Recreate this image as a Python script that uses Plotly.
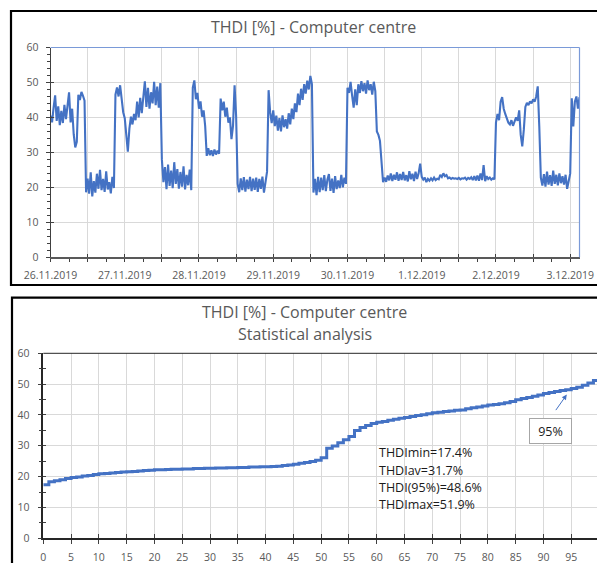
import plotly.graph_objects as go

# ---- THDI time series, 30-minute samples starting 26.11.2019 00:00 ----
SAMPLE_STEP_H = 0.5
thdi_values = [
    # 26.11 00:00 - 11:30
    40.5, 38.6, 42.8, 46.3, 39.0, 43.2, 37.8, 41.9, 38.4, 43.6, 39.5, 44.2,
    47.2, 38.6, 42.5, 35.2, 31.4, 33.0, 46.5, 45.0, 47.3, 46.2, 44.8, 18.6,
    # 26.11 12:00 - 23:30
    22.5, 18.2, 24.3, 17.4, 21.8, 18.5, 23.9, 19.6, 25.0, 19.2, 22.4, 18.7,
    24.6, 19.4, 21.5, 18.3, 23.0, 19.8, 46.5, 48.6, 46.0, 49.2, 45.8, 41.5,
    # 27.11
    39.8, 33.5, 30.2, 36.8, 40.2, 38.0, 41.0, 39.2, 44.5, 40.0, 45.6, 41.2,
    47.0, 50.3, 43.0, 48.5, 42.5, 47.2, 44.0, 50.2, 43.5, 48.8, 42.8, 49.8,
    28.0, 21.5, 25.8, 19.5, 26.5, 20.4, 24.8, 19.8, 27.2, 21.0, 25.2, 19.6,
    24.4, 20.2, 26.0, 19.4, 23.6, 20.6, 25.1, 19.2, 48.5, 50.6, 45.2, 47.0,
    # 28.11
    42.5, 44.6, 40.2, 42.0, 37.5, 29.0, 31.2, 29.2, 30.6, 29.0, 30.8, 29.4,
    30.5, 29.6, 45.4, 42.0, 44.5, 40.2, 42.8, 38.5, 40.0, 33.8, 37.6, 49.2,
    40.5, 21.0, 18.6, 22.6, 19.2, 22.9, 18.8, 22.2, 19.5, 23.0, 18.9, 22.5,
    19.3, 22.8, 18.7, 22.4, 19.6, 23.1, 18.5, 22.0, 24.5, 47.8, 41.5, 38.4,
    # 29.11
    42.0, 37.5, 40.5, 36.2, 39.8, 36.0, 40.6, 37.2, 39.5, 36.8, 41.2, 38.0,
    42.5, 39.5, 44.0, 41.5, 46.8, 43.5, 48.2, 45.0, 49.5, 46.8, 50.5, 48.0,
    51.9, 49.5, 18.5, 22.4, 17.8, 23.0, 18.6, 22.8, 19.2, 23.5, 18.9, 22.2,
    23.8, 19.0, 22.5, 18.4, 23.2, 19.5, 22.0, 19.8, 23.6, 20.0, 22.8, 21.0,
    # 30.11
    48.5, 47.0, 50.2, 46.2, 42.8, 48.0, 43.5, 49.5, 47.0, 50.4, 47.5, 49.8,
    46.8, 50.6, 47.8, 49.5, 46.5, 50.2, 47.5, 36.0, 35.0, 33.3, 28.0, 21.5,
    22.8, 21.6, 23.4, 22.0, 24.0, 21.8, 23.6, 22.2, 24.3, 21.9, 23.8, 22.1,
    24.4, 22.0, 23.5, 21.7, 24.6, 22.3, 23.9, 21.8, 24.5, 22.4, 24.0, 26.8,
    # 1.12
    23.0, 22.2, 22.8, 21.5, 22.4, 21.9, 22.6, 22.0, 22.8, 22.1, 22.5, 22.3,
    23.6, 23.0, 24.0, 23.2, 23.5, 22.6, 22.8, 22.4, 22.7, 22.5, 22.6, 22.4,
    22.7, 22.3, 22.6, 22.5, 22.8, 22.2, 22.7, 22.4, 22.9, 22.1, 23.2, 22.0,
    23.4, 21.9, 24.0, 22.1, 26.4, 21.8, 23.2, 22.4, 22.8, 22.2, 22.6, 22.3,
    # 2.12
    38.5, 41.0, 39.2, 44.5, 45.8, 42.5, 41.0, 39.5, 38.5, 38.0, 39.2, 37.6,
    38.8, 40.0, 39.0, 42.0, 35.0, 31.7, 36.5, 43.0, 44.2, 43.5, 44.6, 44.0,
    45.2, 44.5, 46.0, 48.9, 37.4, 22.8, 20.5, 23.8, 20.2, 24.5, 20.8, 23.5,
    20.4, 24.8, 21.0, 23.6, 20.6, 24.0, 21.2, 23.2, 20.8, 23.6, 19.6, 22.5,
    # 3.12
    24.0, 45.5, 37.4, 44.5, 46.0, 42.5, 45.8,
]
thdi_hours = [i * SAMPLE_STEP_H for i in range(len(thdi_values))]

day_labels = ["26.11.2019", "27.11.2019", "28.11.2019", "29.11.2019",
              "30.11.2019", "1.12.2019", "2.12.2019", "3.12.2019"]
time_axis_end_h = 171.0

# ---- sorted THDI values (percentile curve) ----
percent = list(range(0, 101))
thdi_sorted = [
    17.4, 18.3, 18.7, 19.0, 19.4, 19.7, 19.9, 20.2, 20.4, 20.7,
    20.9, 21.0, 21.2, 21.3, 21.5, 21.6, 21.7, 21.8, 22.0, 22.1,
    22.2, 22.2, 22.3, 22.4, 22.4, 22.5, 22.5, 22.6, 22.6, 22.7,
    22.7, 22.8, 22.8, 22.9, 22.9, 23.0, 23.0, 23.1, 23.1, 23.2,
    23.2, 23.3, 23.4, 23.6, 23.8, 24.0, 24.3, 24.6, 24.9, 25.3,
    26.1, 29.2, 29.9, 31.0, 32.0, 33.0, 35.0, 35.9, 36.6, 37.2,
    37.6, 37.9, 38.3, 38.6, 38.9, 39.2, 39.5, 39.8, 40.1, 40.4,
    40.7, 40.9, 41.1, 41.3, 41.5, 41.6, 42.0, 42.3, 42.6, 42.9,
    43.2, 43.4, 43.6, 44.0, 44.4, 44.9, 45.3, 45.7, 46.1, 46.5,
    47.0, 47.3, 47.6, 47.9, 48.2, 48.6, 49.0, 49.6, 50.4, 51.2,
    51.9,
]
stat_lines = ["THDImin=17.4%", "THDIav=31.7%", "THDI(95%)=48.6%", "THDImax=51.9%"]
marker_label = "95%"

# ---- styling ----
W, H = 597, 563
BLUE = "#4472C4"
GRID = "#D9D9D9"
TXT = "#595959"
AXIS = "#404040"
FONT = "Open Sans"


def px(x):
    return x / W


def py(y):
    return 1 - y / H


fig = go.Figure()

fig.add_trace(go.Scatter(x=thdi_hours, y=thdi_values, mode="lines",
                         line=dict(color=BLUE, width=2.1),
                         xaxis="x", yaxis="y", hoverinfo="skip", showlegend=False))
fig.add_trace(go.Scatter(x=percent, y=thdi_sorted, mode="lines",
                         line=dict(color=BLUE, width=3, shape="hv"),
                         xaxis="x2", yaxis="y2", hoverinfo="skip", showlegend=False))
# empty traces for the overlay axes that draw the inner half of crossing ticks
fig.add_trace(go.Scatter(x=[], y=[], xaxis="x3", yaxis="y3", showlegend=False))
fig.add_trace(go.Scatter(x=[], y=[], xaxis="x4", yaxis="y4", showlegend=False))

top_dom_x = [px(50.5), px(579.5)]
top_dom_y = [py(257.3), py(47.5)]
bot_dom_x = [px(43.3), 1.0]
bot_dom_y = [py(538.3), py(353.3)]

half_days = [12 * k for k in range(0, 15)]
half_day_text = [day_labels[k // 2] if k % 2 == 0 else "" for k in range(0, 15)]
tickfont = dict(family=FONT, size=10.5, color=TXT)

fig.update_layout(
    width=W, height=H, autosize=False,
    margin=dict(l=0, r=0, t=0, b=0, autoexpand=False),
    paper_bgcolor="white", plot_bgcolor="white",
    xaxis=dict(domain=top_dom_x, anchor="y", range=[0, time_axis_end_h], automargin=False,
               tickmode="array", tickvals=half_days, ticktext=half_day_text,
               ticks="outside", ticklen=3, tickwidth=1, tickcolor=AXIS,
               showgrid=True, gridcolor=GRID, gridwidth=1,
               showline=True, linecolor="#595959", linewidth=2,
               zeroline=False, tickfont=tickfont, ticklabelstandoff=4,
               minor=dict(dtick=6, tick0=0, ticks="outside", ticklen=3,
                          tickcolor=AXIS, showgrid=False)),
    yaxis=dict(domain=top_dom_y, anchor="x", range=[0, 60], dtick=10, automargin=False,
               ticks="outside", ticklen=4, tickwidth=1, tickcolor=AXIS,
               showgrid=True, gridcolor=GRID, gridwidth=1,
               showline=True, linecolor=AXIS, linewidth=1,
               zeroline=False, tickfont=tickfont, ticklabelstandoff=5,
               minor=dict(dtick=2, ticks="outside", ticklen=2.5,
                          tickcolor=AXIS, showgrid=False)),
    xaxis3=dict(domain=top_dom_x, overlaying="x", anchor="y3", range=[0, time_axis_end_h],
                automargin=False,
                tickmode="array", tickvals=half_days, ticks="inside", ticklen=3,
                tickcolor=AXIS, showticklabels=False, showgrid=False,
                showline=False, zeroline=False),
    yaxis3=dict(domain=top_dom_y, overlaying="y", anchor="x3", range=[0, 60], dtick=10,
                automargin=False,
                ticks="inside", ticklen=3, tickcolor=AXIS, showticklabels=False,
                showgrid=False, showline=False, zeroline=False),
    xaxis2=dict(domain=bot_dom_x, anchor="y2", range=[0, 99.64], automargin=False,
                tickmode="linear", tick0=0, dtick=5,
                ticks="outside", ticklen=4, tickwidth=1, tickcolor=AXIS,
                showgrid=True, gridcolor=GRID, gridwidth=1,
                showline=True, linecolor="#262626", linewidth=1.5,
                zeroline=False, tickfont=tickfont, ticklabelstandoff=4),
    yaxis2=dict(domain=bot_dom_y, anchor="x2", range=[0, 60], dtick=10, automargin=False,
                ticks="outside", ticklen=4, tickwidth=1, tickcolor=AXIS,
                showgrid=True, gridcolor=GRID, gridwidth=1,
                showline=True, linecolor="#262626", linewidth=1.5,
                zeroline=False, tickfont=tickfont, ticklabelstandoff=6,
                minor=dict(dtick=5, ticks="outside", ticklen=3,
                           tickcolor=AXIS, showgrid=False)),
    xaxis4=dict(domain=bot_dom_x, overlaying="x2", anchor="y4", range=[0, 99.64],
                automargin=False,
                tickmode="linear", tick0=0, dtick=5, ticks="inside", ticklen=4,
                tickcolor=AXIS, showticklabels=False, showgrid=False,
                showline=False, zeroline=False),
    yaxis4=dict(domain=bot_dom_y, overlaying="y2", anchor="x4", range=[0, 60], dtick=5,
                automargin=False,
                ticks="inside", ticklen=3, tickcolor=AXIS, showticklabels=False,
                showgrid=False, showline=False, zeroline=False),
)

shapes = [
    # panel frames
    dict(type="rect", xref="paper", yref="paper", x0=px(11), x1=px(640),
         y0=py(285), y1=py(11), line=dict(color="black", width=2.2)),
    dict(type="rect", xref="paper", yref="paper", x0=px(12), x1=px(640),
         y0=py(640), y1=py(297.7), line=dict(color="black", width=2.2)),
    # plot-area border of the time chart (top and right edges)
    dict(type="line", xref="paper", yref="paper", x0=top_dom_x[0], x1=top_dom_x[1],
         y0=top_dom_y[1], y1=top_dom_y[1], line=dict(color="#7A9AD8", width=1.2)),
    dict(type="line", xref="paper", yref="paper", x0=top_dom_x[1], x1=top_dom_x[1],
         y0=top_dom_y[0], y1=top_dom_y[1], line=dict(color="#7A9AD8", width=1.2)),
    # top edge of the statistics plot area
    dict(type="line", xref="paper", yref="paper", x0=bot_dom_x[0], x1=1.0,
         y0=bot_dom_y[1], y1=bot_dom_y[1], line=dict(color="#262626", width=1)),
]
fig.update_layout(shapes=shapes)

title_font = dict(family=FONT, size=16, color=TXT)
annotations = [
    dict(text="THDI [%] - Computer centre", xref="paper", yref="paper",
         x=px(313.5), y=py(27), xanchor="center", yanchor="middle",
         showarrow=False, font=title_font),
    dict(text="THDI [%] - Computer centre", xref="paper", yref="paper",
         x=px(304.5), y=py(312), xanchor="center", yanchor="middle",
         showarrow=False, font=title_font),
    dict(text="Statistical analysis", xref="paper", yref="paper",
         x=px(304.5), y=py(334), xanchor="center", yanchor="middle",
         showarrow=False, font=title_font),
]
stat_y = [452.7, 470.0, 487.3, 504.8]
for line_text, yy in zip(stat_lines, stat_y):
    annotations.append(dict(text=line_text, xref="paper", yref="paper",
                            x=px(376.5), y=py(yy), xanchor="left", yanchor="middle",
                            showarrow=False,
                            font=dict(family=FONT, size=12.5, color="#1a1a1a")))
# boxed percentile label and its pointer
annotations.append(dict(text=marker_label, xref="paper", yref="paper",
                        x=px(550.5), y=py(431), xanchor="center", yanchor="middle",
                        showarrow=False, width=41, height=24, borderpad=0,
                        bordercolor="#A6A6A6", borderwidth=1, bgcolor="white",
                        font=dict(family=FONT, size=12.5, color="#1a1a1a")))
annotations.append(dict(text="", xref="x2", yref="y2", x=94.2, y=46.6,
                        ax=-12, ay=17, showarrow=True, arrowhead=2, arrowsize=1,
                        arrowwidth=1, arrowcolor=BLUE, standoff=0))
fig.update_layout(annotations=annotations)

fig.write_html("out.html")
